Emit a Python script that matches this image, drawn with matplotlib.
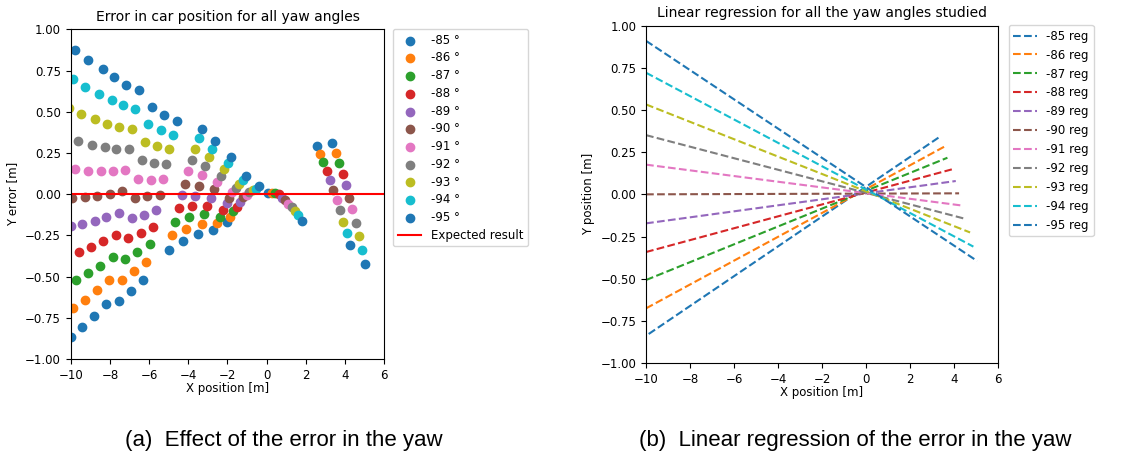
import matplotlib
matplotlib.use("Agg")
import matplotlib.pyplot as plt

# yaw angles studied
angles = [-85, -86, -87, -88, -89, -90, -91, -92, -93, -94, -95]

# error in car position (x position, y error)
x_m85 = [-9.98, -9.42, -8.80, -8.18, -7.54, -6.91, -6.30, -4.98, -4.29, -3.49, -2.72, -2.04, 0.08, 2.55, 3.35]
y_m85 = [-0.866, -0.803, -0.738, -0.665, -0.651, -0.588, -0.521, -0.336, -0.286, -0.243, -0.215, -0.170, 0.010, 0.290, 0.313]
x_m86 = [-9.88, -9.27, -8.66, -8.03, -7.37, -6.76, -6.14, -4.83, -4.13, -3.30, -2.55, -1.87, 0.26, 2.74, 3.55]
y_m86 = [-0.689, -0.641, -0.584, -0.521, -0.521, -0.468, -0.409, -0.249, -0.213, -0.181, -0.176, -0.136, 0.008, 0.243, 0.252]
x_m87 = [-9.74, -9.12, -8.51, -7.86, -7.21, -6.60, -5.95, -4.68, -3.98, -3.20, -2.38, -1.70, 0.42, 2.89, 3.70]
y_m87 = [-0.519, -0.476, -0.436, -0.381, -0.393, -0.350, -0.304, -0.168, -0.140, -0.123, -0.136, -0.105, 0.004, 0.193, 0.189]
x_m88 = [-9.58, -8.95, -8.34, -7.70, -7.06, -6.43, -5.80, -4.49, -3.81, -3.03, -2.21, -1.53, 0.63, 3.09, 3.88]
y_m88 = [-0.349, -0.322, -0.286, -0.247, -0.265, -0.237, -0.201, -0.087, -0.073, -0.071, -0.095, -0.075, -0.002, 0.140, 0.124]
x_m89 = [-10.0, -9.42, -8.78, -8.18, -7.55, -6.89, -6.26, -5.65, -4.34, -3.64, -2.84, -2.04, -1.36, 0.77, 3.25, 4.06]
y_m89 = [-0.195, -0.180, -0.164, -0.140, -0.113, -0.142, -0.125, -0.099, -0.008, -0.014, -0.022, -0.055, -0.049, -0.022, 0.083, 0.053]
x_m90 = [-9.95, -9.25, -8.64, -7.99, -7.37, -6.72, -6.09, -5.46, -4.17, -3.47, -2.69, -1.91, -1.19, 0.93, 3.40, 4.21]
y_m90 = [-0.022, -0.018, -0.012, -0.002, 0.021, -0.022, -0.012, -0.004, 0.063, 0.051, 0.029, -0.024, -0.018, -0.038, 0.027, -0.022]
x_m91 = [-9.78, -9.10, -8.47, -7.83, -7.21, -6.55, -5.92, -5.31, -4.00, -3.30, -2.52, -1.76, -1.02, 1.10, 3.59, 4.37]
y_m91 = [0.152, 0.142, 0.138, 0.140, 0.148, 0.091, 0.085, 0.091, 0.138, 0.116, 0.071, 0.012, -0.004, -0.057, -0.034, -0.093]
x_m92 = [-9.64, -8.91, -8.27, -7.67, -7.04, -6.38, -5.77, -5.14, -3.83, -3.13, -2.33, -1.58, -0.89, 1.28, 3.76, 4.56]
y_m92 = [0.322, 0.300, 0.284, 0.276, 0.272, 0.205, 0.191, 0.183, 0.207, 0.170, 0.112, 0.039, 0.012, -0.079, -0.097, -0.172]
x_m93 = [-10.07, -9.47, -8.74, -8.13, -7.52, -6.86, -6.22, -5.60, -4.97, -3.66, -2.96, -2.16, -1.41, -0.71, 1.44, 3.91, 4.71]
y_m93 = [0.523, 0.489, 0.454, 0.428, 0.410, 0.394, 0.316, 0.290, 0.272, 0.274, 0.225, 0.152, 0.063, 0.023, -0.103, -0.166, -0.255]
x_m94 = [-9.90, -9.27, -8.57, -7.91, -7.32, -6.70, -6.04, -5.41, -4.80, -3.47, -2.79, -1.97, -1.22, -0.55, 1.61, 4.08, 4.88]
y_m94 = [0.700, 0.653, 0.606, 0.570, 0.538, 0.515, 0.424, 0.388, 0.359, 0.339, 0.274, 0.189, 0.088, 0.033, -0.128, -0.235, -0.338]
x_m95 = [-9.77, -9.10, -8.37, -7.78, -7.16, -6.50, -5.87, -5.24, -4.59, -3.32, -2.62, -1.84, -1.06, -0.38, 1.80, 4.25, 5.03]
y_m95 = [0.874, 0.815, 0.758, 0.708, 0.665, 0.631, 0.529, 0.481, 0.442, 0.398, 0.321, 0.225, 0.108, 0.047, -0.162, -0.310, -0.426]

# regression line end points
reg_x_start = [-9.88, -10.0, -10.0, -10.0, -10.0, -10.0, -10.0, -10.0, -10.0, -10.0, -10.0]
reg_y_start = [-0.828, -0.676, -0.508, -0.342, -0.172, 0.0, 0.176, 0.351, 0.533, 0.721, 0.910]
reg_x_end = [3.36, 3.55, 3.70, 3.90, 4.08, 4.23, 4.40, 4.56, 4.73, 4.88, 5.05]
reg_y_end = [0.342, 0.282, 0.217, 0.148, 0.079, 0.006, -0.067, -0.147, -0.226, -0.310, -0.395]

xs = [x_m85, x_m86, x_m87, x_m88, x_m89, x_m90, x_m91, x_m92, x_m93, x_m94, x_m95]
ys = [y_m85, y_m86, y_m87, y_m88, y_m89, y_m90, y_m91, y_m92, y_m93, y_m94, y_m95]

plt.rcParams['font.family'] = ['DejaVu Sans']
fs = 8.5

fig = plt.figure(figsize=(11.22, 4.57), dpi=100)

# (a) scatter of errors
ax1 = fig.add_axes([0.063, 0.2144, 0.2795, 0.7215])
for i in range(len(angles)):
    ax1.scatter(xs[i], ys[i], color="C%d" % (i % 10), label="%d °" % angles[i])
ax1.plot([-10, 6], [0, 0], color="red", label="Expected result")
ax1.set_xlim(-10, 6)
ax1.set_ylim(-1, 1)
ax1.set_title("Error in car position for all yaw angles", fontsize=10)
ax1.set_xlabel("X position [m]", fontsize=fs, labelpad=0.5)
ax1.set_ylabel("Y error [m]", fontsize=fs)
ax1.tick_params(labelsize=fs)
ax1.legend(loc="upper left", bbox_to_anchor=(0.3503, 0.9365), bbox_transform=fig.transFigure,
           fontsize=fs, borderaxespad=0, labelspacing=0.4)

# (b) regression lines
ax2 = fig.add_axes([0.5758, 0.2057, 0.3137, 0.7381])
for i in range(len(angles)):
    ax2.plot([reg_x_start[i], reg_x_end[i]], [reg_y_start[i], reg_y_end[i]], "--",
             color="C%d" % (i % 10), label="%d reg" % angles[i])
ax2.set_xlim(-10, 6)
ax2.set_ylim(-1, 1)
ax2.set_title("Linear regression for all the yaw angles studied", fontsize=10)
ax2.set_xlabel("X position [m]", fontsize=fs, labelpad=0.5)
ax2.set_ylabel("Y position [m]", fontsize=fs)
ax2.tick_params(labelsize=fs)
ax2.legend(loc="upper left", bbox_to_anchor=(0.899, 0.9453), bbox_transform=fig.transFigure,
           fontsize=fs, borderaxespad=0)

fig.text(0.253, 0.025, "(a)  Effect of the error in the yaw", ha="center",
         family="Liberation Sans", fontsize=16)
fig.text(0.762, 0.025, "(b)  Linear regression of the error in the yaw", ha="center",
         family="Liberation Sans", fontsize=16)

fig.savefig("out.png", dpi=100)
